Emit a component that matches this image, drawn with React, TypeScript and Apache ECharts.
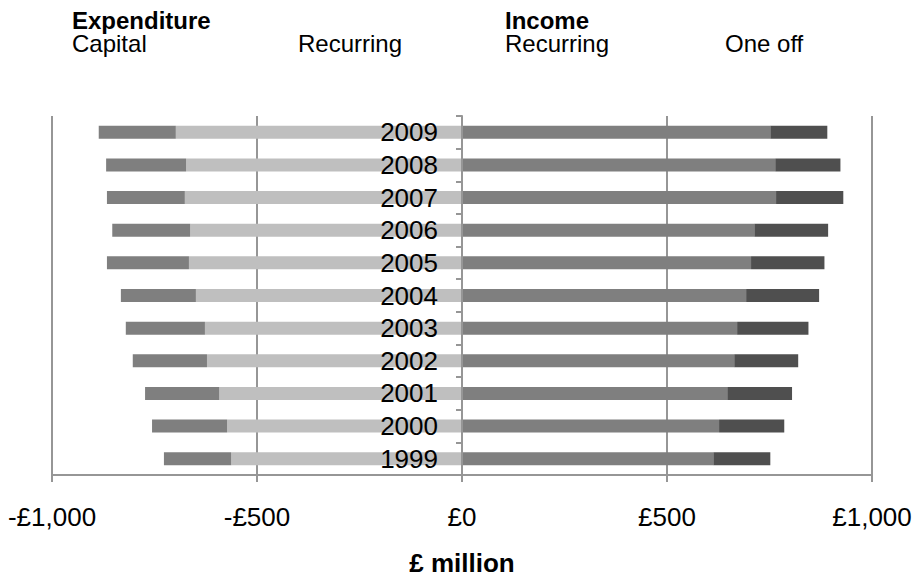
import React, { useEffect, useRef } from "react";
import * as echarts from "echarts";

const years = ["1999", "2000", "2001", "2002", "2003", "2004", "2005", "2006", "2007", "2008", "2009"];
const capitalExp = [164, 183, 181, 181, 193, 183, 200, 190, 190, 195, 188];
const recurringExp = [563, 573, 592, 622, 627, 649, 666, 663, 676, 673, 698];
const recurringInc = [613, 627, 647, 664, 671, 693, 705, 713, 766, 764, 752];
const oneOffInc = [139, 159, 158, 156, 174, 178, 179, 180, 164, 159, 139];
const xTicks = { min: -1000, max: 1000, interval: 500 };

const FONT = "'Liberation Sans', Arial, sans-serif";
const LINE = "#969696";
const W = 913;
const H = 579;
const GRID = { left: 52, right: 41, top: 116, bottom: 104 };

function fmt(v: number): string {
  const s = Math.abs(v).toString().replace(/\B(?=(\d{3})+(?!\d))/g, ",");
  return (v < 0 ? "-" : "") + "£" + s;
}

export default function App() {
  const ref = useRef<HTMLDivElement>(null);
  useEffect(() => {
    document.body.style.margin = "0";
    const chart = echarts.init(ref.current!, undefined, { renderer: "svg" });
    const headerStyle = (text: string, bold = false) => ({
      text,
      fontFamily: FONT,
      fontSize: 24,
      lineHeight: 22,
      fontWeight: bold ? "bold" : "normal",
      fill: "#000",
    });
    // place the category axis on the value axis's zero position
    const gridWidth = W - GRID.left - GRID.right;
    const zeroOffset = -gridWidth * ((0 - xTicks.min) / (xTicks.max - xTicks.min));
    chart.setOption({
      animation: false,
      backgroundColor: "#fff",
      grid: { ...GRID, containLabel: false, outerBoundsMode: "none" },
      xAxis: {
        type: "value",
        min: xTicks.min,
        max: xTicks.max,
        interval: xTicks.interval,
        name: "£ million",
        nameLocation: "middle",
        nameGap: 75,
        nameTextStyle: { fontFamily: FONT, fontSize: 26, fontWeight: "bold", color: "#000" },
        axisLine: { show: true, onZero: false, lineStyle: { color: LINE, width: 2 } },
        axisTick: { show: true, length: 7, lineStyle: { color: LINE, width: 2 } },
        axisLabel: { formatter: fmt, margin: 29, fontFamily: FONT, fontSize: 26, color: "#000" },
        splitLine: { show: true, lineStyle: { color: LINE, width: 2 } },
      },
      yAxis: {
        type: "category",
        data: years,
        z: 5,
        offset: zeroOffset,
        axisLine: { show: true, onZero: false, lineStyle: { color: LINE, width: 2 } },
        axisTick: { show: true, length: 6, lineStyle: { color: LINE, width: 2 } },
        axisLabel: { interval: 0, margin: 24, fontFamily: FONT, fontSize: 26, color: "#000" },
        splitLine: { show: false },
      },
      graphic: [
        { type: "text", left: 72, top: 8, style: headerStyle("Expenditure", true) },
        { type: "text", left: 72, top: 31, style: headerStyle("Capital") },
        { type: "text", left: 298, top: 31, style: headerStyle("Recurring") },
        { type: "text", left: 505, top: 8, style: headerStyle("Income", true) },
        { type: "text", left: 505, top: 31, style: headerStyle("Recurring") },
        { type: "text", left: 725, top: 31, style: headerStyle("One off") },
      ],
      series: [
        {
          name: "Recurring expenditure",
          type: "bar",
          stack: "all",
          barWidth: 13,
          itemStyle: { color: "#bfbfbf" },
          data: recurringExp.map((v) => -v),
        },
        {
          name: "Capital",
          type: "bar",
          stack: "all",
          barWidth: 13,
          itemStyle: { color: "#7f7f7f" },
          data: capitalExp.map((v) => -v),
        },
        {
          name: "Recurring income",
          type: "bar",
          stack: "all",
          barWidth: 13,
          itemStyle: { color: "#7f7f7f" },
          data: recurringInc,
        },
        {
          name: "One off",
          type: "bar",
          stack: "all",
          barWidth: 13,
          itemStyle: { color: "#4f4f4f" },
          data: oneOffInc,
        },
      ],
    });
    return () => chart.dispose();
  }, []);
  return <div ref={ref} style={{ width: W, height: H }} />;
}
